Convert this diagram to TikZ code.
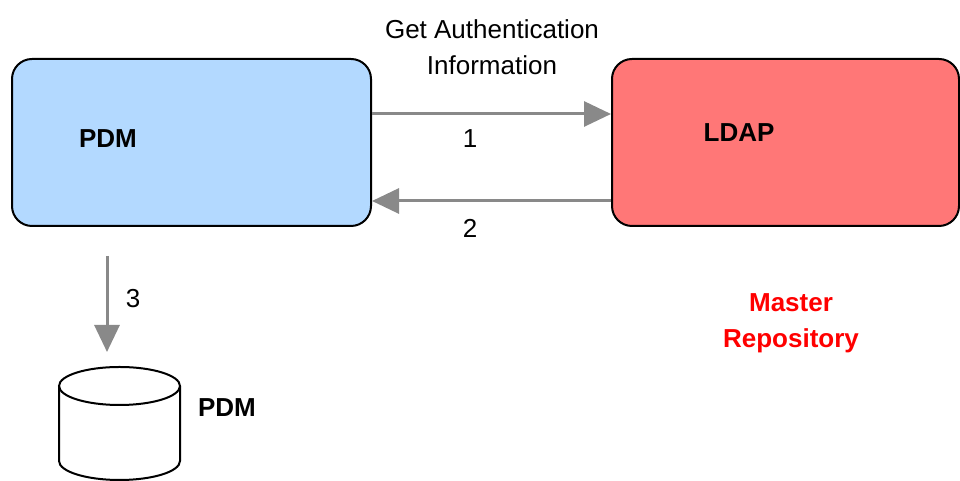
\documentclass[tikz,border=0pt]{standalone}
\usepackage{fontspec}
\setmainfont{Liberation Sans}
\usetikzlibrary{arrows.meta}
\definecolor{pdmblue}{RGB}{179,217,255}
\definecolor{ldapred}{RGB}{255,119,119}
\definecolor{flowgray}{RGB}{137,137,137}
\definecolor{repred}{RGB}{255,0,0}

\begin{document}
\begin{tikzpicture}[x=0.5pt, y=0.5pt,
        box/.style={draw=black, line width=1pt, rounded corners=10pt, inner sep=0pt},
        flow/.style={draw=flowgray, line width=1.5pt, -{Triangle[length=13.5pt, width=12.5pt]}},
        lbl/.style={font=\fontsize{13}{18}\selectfont, align=center, inner sep=0pt},
        bold/.style={lbl, font=\fontsize{13}{18}\selectfont\bfseries}]
        \useasboundingbox (0,0) rectangle (960,481);

        % Блоки
        \node[box, fill=pdmblue, minimum width=179.5pt, minimum height=83.5pt] (pdm) at (191.5,338.5) {};
        \node[box, fill=ldapred, minimum width=173.5pt, minimum height=83.5pt] (ldap) at (785.5,338.5) {};

        % Подписи блоков
        \node[bold, anchor=base] (pdmtxt)  at (108,333) {PDM};
        \node[bold, anchor=base] (ldaptxt) at (739,339) {LDAP};
        \node[lbl] (gettxt) at (492,433.5) {Get Authentication\\Information};
        \node[bold, text=repred] (master) at (791,158) {Master\\Repository};

        % Стрелки
        \coordinate (y1) at (0,367);
        \coordinate (y2) at (0,280);
        \draw[flow] (pdm.east |- y1) -- (ldap.west |- y1);
        \draw[flow] (ldap.west |- y2) -- (pdm.east |- y2);
        \coordinate (s3) at (107,225);
        \coordinate (e3) at (107,129);
        \draw[flow] (s3) -- (e3);

        % Номера шагов
        \node[lbl, anchor=base] (n1) at (470,333) {1};
        \node[lbl, anchor=base] (n2) at (470,243) {2};
        \node[lbl, anchor=base] (n3) at (133,173) {3};

        % Хранилище
        \coordinate (db) at (119.5,95);
        \draw[line width=1pt, fill=white] (59,95) -- (59,20) arc[start angle=180, end angle=360, x radius=60.5, y radius=19] -- (180,95);
        \draw[line width=1pt] (db) ellipse[x radius=60.5, y radius=19];
        \node[bold, anchor=base] (dbtxt) at (227,64) {PDM};
    \end{tikzpicture}
\end{document}
